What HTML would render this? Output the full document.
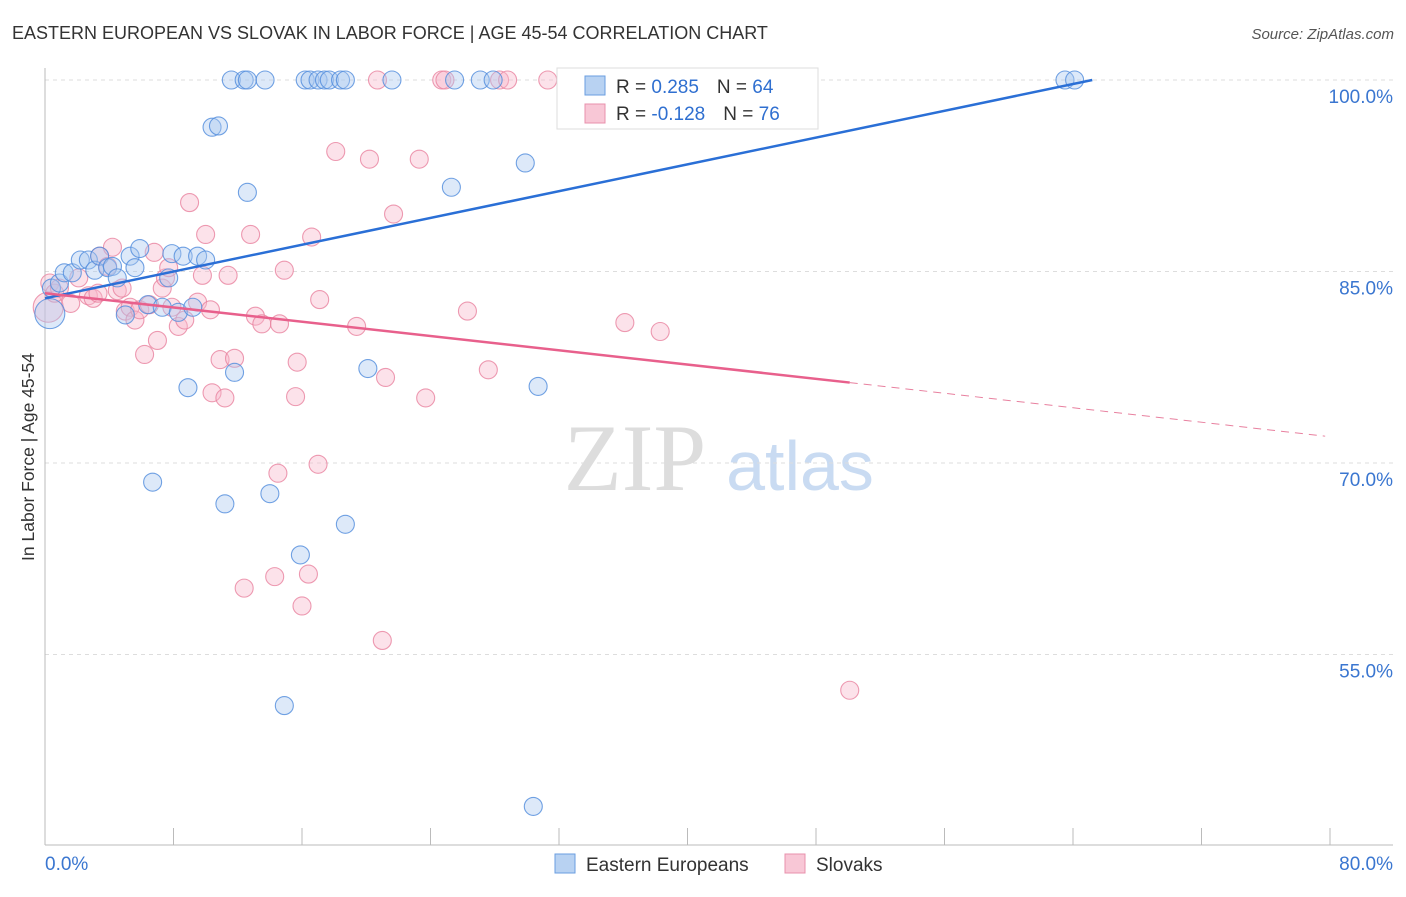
<!DOCTYPE html>
<html><head><meta charset="utf-8"><style>
body{margin:0;background:#fff;font-family:"Liberation Sans",sans-serif}
</style></head><body>
<svg id="c" width="1406" height="892" xmlns="http://www.w3.org/2000/svg">
<text x="12" y="39" font-size="18" fill="#333">EASTERN EUROPEAN VS SLOVAK IN LABOR FORCE | AGE 45-54 CORRELATION CHART</text>
<text x="1394" y="39" font-size="15" fill="#555" font-style="italic" text-anchor="end">Source: ZipAtlas.com</text>
<text x="635" y="490" font-size="95" fill="#ddd" font-family="Liberation Serif,serif" text-anchor="middle">ZIP</text>
<text x="800" y="490" font-size="70" fill="#c9dbf2" text-anchor="middle">atlas</text>
<g id="grid"></g><g id="pts"></g><g id="lines"></g>
<text transform="translate(34,457) rotate(-90)" font-size="17.5" fill="#333" text-anchor="middle">In Labor Force | Age 45-54</text>
<text x="45" y="870" font-size="19" fill="#3a76d0">0.0%</text>
<text x="1393" y="870" font-size="19" fill="#3a76d0" text-anchor="end">80.0%</text>
<g>
<rect x="557" y="68" width="261" height="61" fill="#fff" stroke="#ddd"/>
<rect x="585" y="76" width="20" height="19" fill="#b8d2f2" stroke="#6a9ee0"/>
<rect x="585" y="104" width="20" height="19" fill="#f8c7d6" stroke="#e890ac"/>
<text x="616" y="93" font-size="19" fill="#333">R = <tspan fill="#2f6fd0"> 0.285</tspan><tspan dx="18">N = </tspan><tspan fill="#2f6fd0">64</tspan></text>
<text x="616" y="120" font-size="19" fill="#333">R = <tspan fill="#2f6fd0">-0.128</tspan><tspan dx="18">N = </tspan><tspan fill="#2f6fd0">76</tspan></text>
</g>
<g>
<rect x="555" y="854" width="20" height="19" fill="#b8d2f2" stroke="#6a9ee0"/>
<text x="586" y="871" font-size="19" fill="#333">Eastern Europeans</text>
<rect x="785" y="854" width="20" height="19" fill="#f8c7d6" stroke="#e890ac"/>
<text x="816" y="871" font-size="19" fill="#333">Slovaks</text>
</g>
</svg>
<script>
const yTicks=[55,70,85,100];
const blueX=[0.3,0.4,0.9,1.2,1.7,2.2,2.7,3.1,3.4,3.9,4.2,4.5,5.0,5.3,5.6,5.9,6.4,6.7,7.3,7.7,7.9,8.3,8.6,8.9,9.2,9.5,10.0,10.4,10.8,11.2,11.6,11.8,12.4,12.6,12.6,13.7,14.0,14.9,15.9,16.2,16.5,17.0,17.4,17.7,18.4,18.7,18.7,20.1,21.6,25.3,25.5,27.1,27.9,29.9,30.4,30.7,35.0,63.5,64.1];
const blueY=[81.7,83.7,84.1,84.9,84.9,85.9,85.9,85.1,86.2,85.3,85.4,84.5,81.6,86.2,85.3,86.8,82.4,68.5,82.2,84.5,86.4,81.8,86.2,75.9,82.2,86.2,85.9,96.3,96.4,66.8,100,77.1,100,100,91.2,100,67.6,51.0,62.8,100,100,100,100,100,100,100,65.2,77.4,100,91.6,100,100,100,93.5,43.1,76.0,100,100,100];
const pinkX=[0.2,0.3,0.6,0.9,1.6,2.1,2.7,3.0,3.3,3.4,3.9,4.2,4.5,4.8,5.0,5.3,5.6,5.9,6.2,6.5,6.8,7.0,7.3,7.5,7.7,7.9,8.3,8.7,9.0,9.5,9.8,10.0,10.3,10.4,10.9,11.2,11.4,11.8,12.4,12.8,13.1,13.5,14.3,14.5,14.9,14.6,15.6,15.7,16.0,16.4,16.6,17.0,17.1,18.1,19.4,20.2,20.7,21.0,21.2,21.7,23.3,23.7,24.7,24.9,26.3,27.6,28.3,28.8,31.3,36.1,38.3,50.1];
const pinkY=[82.2,84.1,83.3,83.7,82.5,84.5,83.1,82.9,83.3,86.2,85.4,86.9,83.5,83.7,81.9,82.2,81.2,82.0,78.5,82.4,86.5,79.6,83.7,84.5,85.3,82.2,80.7,81.2,90.4,82.6,84.7,87.9,82.0,75.5,78.1,75.1,84.7,78.2,60.2,87.9,81.5,80.9,61.1,69.2,85.1,80.9,75.2,77.9,58.8,61.3,87.7,69.9,82.8,94.4,80.7,93.8,100,56.1,76.7,89.5,93.8,75.1,100,100,81.9,77.3,100,100,100,81.0,80.3,52.2];
const blueLine=[[0,82.9],[65.2,100]];
const pinkLine=[[0,83.3],[50.1,76.3]];
const pinkDash=[[50.1,76.3],[79.7,72.1]];
const X=v=>45+v/80*1285, Y=v=>80+(100-v)*191.5/15;
const NS='http://www.w3.org/2000/svg';
function mk(tag,at,parent){const e=document.createElementNS(NS,tag);for(const k in at)e.setAttribute(k,at[k]);parent.appendChild(e);return e;}
const grid=document.getElementById('grid'),pts=document.getElementById('pts'),lines=document.getElementById('lines');
yTicks.forEach(t=>{
 const l=mk('line',{x1:45,x2:1393,y1:Y(t),y2:Y(t),stroke:'#ddd','stroke-dasharray':'4,4'},grid);
 
 
 const tx=mk('text',{x:1393,y:Y(t)+23,'font-size':19,fill:'#3a76d0','text-anchor':'end'},grid);
 tx.textContent=t.toFixed(1)+'%';
 
 
});
const ax=mk('line',{x1:45,x2:45,y1:68,y2:845,stroke:'#bbb'},grid);


const bx=mk('line',{x1:45,x2:1393,y1:845,y2:845,stroke:'#bbb'},grid);


for(let i=0;i<=10;i++){const tk=mk('line',{x1:X(i*8),x2:X(i*8),y1:828,y2:845,stroke:'#bbb'},grid);
 
 }
function dots(xs,ys,fill,stroke,name){xs.forEach((x,i)=>{
 const c=mk('circle',{cx:X(x),cy:Y(ys[i]),r:i===0?15:9,fill:fill,'fill-opacity':0.4,stroke:stroke,'stroke-opacity':0.8,'stroke-width':1.1},pts);
 
 });}
dots(pinkX,pinkY,'#f7b6ca','#e8829f','slovak-point');
dots(blueX,blueY,'#a9c9f0','#4f8bdc','eastern-european-point');
function ln(d,col,dash,name){const l=mk('line',{x1:X(d[0][0]),y1:Y(d[0][1]),x2:X(d[1][0]),y2:Y(d[1][1]),stroke:col,'stroke-width':dash?1:2.5},lines);
 if(dash)l.setAttribute('stroke-dasharray','8,6');
 
 }
ln(blueLine,'#2a6fd6',false,'eastern-trend-line');
ln(pinkLine,'#e8608c',false,'slovak-trend-line');
ln(pinkDash,'#e8809f',true,'slovak-trend-extension');
</script>
</body></html>
